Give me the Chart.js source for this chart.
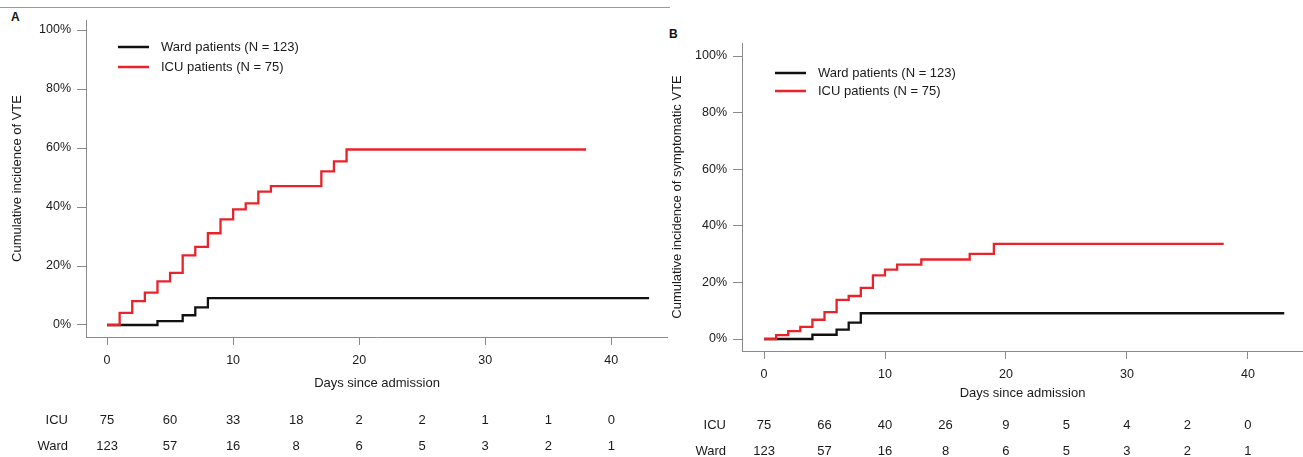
<!DOCTYPE html>
<html>
<head>
<meta charset="utf-8">
<script src="https://cdn.jsdelivr.net/npm/chart.js@4.4.1/dist/chart.umd.min.js"></script>
<style>
  html, body { margin: 0; padding: 0; background: #fff; }
  body { width: 1303px; height: 457px; position: relative; overflow: hidden; font-family: "Liberation Sans", Arial, sans-serif; }
  canvas { position: absolute; top: 0; }
  #chartA { left: 0; }
  #chartB { left: 660px; }
  .rule { position: absolute; left: 0; top: 7px; width: 670px; height: 1px; background: #9a9a9a; }
  .tag { position: absolute; font-weight: bold; font-size: 12px; color: #111; }
</style>
</head>
<body>
<div class="rule"></div>
<div class="tag" style="left:11px; top:10px;">A</div>
<div class="tag" style="left:669px; top:27px;">B</div>
<canvas id="chartA" width="668" height="457"></canvas>
<canvas id="chartB" width="643" height="457"></canvas>
<script>
// Panel A: all VTE
const icuDaysA = [0, 1, 2, 3, 4, 5, 6, 7, 8, 9, 10, 11, 12, 13, 17, 18, 19, 38];
const icuValsA = [0, 4.1, 8.1, 11.0, 14.8, 17.7, 23.6, 26.5, 31.1, 35.8, 39.2, 41.2, 45.2, 47.1, 52.1, 55.5, 59.5, 59.5];
const wardDaysA = [0, 4, 6, 7, 8, 43];
const wardValsA = [0, 1.3, 3.3, 6.0, 9.1, 9.1];

// Panel B: symptomatic VTE
const icuDaysB = [0, 1, 2, 3, 4, 5, 6, 7, 8, 9, 10, 11, 13, 17, 19, 38];
const icuValsB = [0, 1.4, 2.8, 4.3, 6.8, 9.5, 13.8, 15.2, 18.1, 22.5, 24.5, 26.3, 28.1, 30.1, 33.6, 33.6];
const wardDaysB = [0, 4, 6, 7, 8, 43];
const wardValsB = [0, 1.5, 3.3, 5.8, 9.1, 9.1];

// numbers at risk
const riskDays = [0, 5, 10, 15, 20, 25, 30, 35, 40];
const icuRiskA = [75, 60, 33, 18, 2, 2, 1, 1, 0];
const wardRiskA = [123, 57, 16, 8, 6, 5, 3, 2, 1];
const icuRiskB = [75, 66, 40, 26, 9, 5, 4, 2, 0];
const wardRiskB = [123, 57, 16, 8, 6, 5, 3, 2, 1];

const xTicks = [0, 10, 20, 30, 40];
const yTicks = [0, 20, 40, 60, 80, 100];
const wardLabel = 'Ward patients (N = 123)';
const icuLabel = 'ICU patients (N = 75)';

const FONT = '"Liberation Sans", Arial, sans-serif';
const TXT = '#1a1a1a';
const AXIS = '#8a8a8a';

function pts(days, vals) {
  return days.map((d, i) => ({ x: d, y: vals[i] }));
}

// legend + risk table drawn in plot coordinates
const extras = {
  id: 'extras',
  afterDraw(chart, args, o) {
    const ctx = chart.ctx;
    const xs = chart.scales.x;
    ctx.save();
    ctx.font = '13px ' + FONT;
    ctx.textBaseline = 'middle';
    // legend (ward first)
    [1, 0].forEach((di, k) => {
      const ds = chart.data.datasets[di];
      const y = o.legY + k * o.legGap;
      ctx.strokeStyle = ds.borderColor;
      ctx.lineWidth = 2.5;
      ctx.beginPath();
      ctx.moveTo(o.legX, y);
      ctx.lineTo(o.legX + 31, y);
      ctx.stroke();
      ctx.fillStyle = TXT;
      ctx.textAlign = 'left';
      ctx.fillText(ds.label, o.legX + 43, y);
    });
    // risk table
    const rows = [['ICU', o.icuRisk, o.rowY], ['Ward', o.wardRisk, o.rowY + 26]];
    rows.forEach(([name, vals, y]) => {
      ctx.textAlign = 'right';
      ctx.fillText(name, o.rowLabelX, y);
      ctx.textAlign = 'center';
      riskDays.forEach((d, i) => ctx.fillText(String(vals[i]), xs.getPixelForValue(d), y));
    });
    ctx.restore();
  }
};

function makePanel(id, p) {
  return new Chart(document.getElementById(id), {
    type: 'line',
    data: {
      datasets: [
        { label: icuLabel, data: pts(p.icuDays, p.icuVals), borderColor: '#e8232a', order: 0 },
        { label: wardLabel, data: pts(p.wardDays, p.wardVals), borderColor: '#111111', order: 1 }
      ]
    },
    options: {
      responsive: false,
      devicePixelRatio: 1,
      animation: false,
      layout: { padding: { left: 0, top: p.top, right: 0, bottom: 0 } },
      elements: {
        line: { borderWidth: 2.3, stepped: 'before', tension: 0 },
        point: { radius: 0 }
      },
      plugins: {
        legend: { display: false },
        tooltip: { enabled: false },
        extras: p.extras
      },
      scales: {
        x: {
          type: 'linear',
          min: p.xMin, max: p.xMax,
          afterBuildTicks: s => { s.ticks = xTicks.map(v => ({ value: v })); },
          afterFit: s => { s.height = p.xHeight; },
          grid: { drawOnChartArea: false, drawTicks: true, tickLength: 8, color: AXIS },
          border: { display: true, color: AXIS, width: 1 },
          ticks: { color: TXT, font: { family: FONT, size: 12.5 }, padding: 8, maxRotation: 0 },
          title: { display: true, text: 'Days since admission', color: TXT, font: { family: FONT, size: 13 }, padding: { top: 0, bottom: p.xTitlePad } }
        },
        y: {
          min: p.yMin, max: p.yMax,
          afterBuildTicks: s => { s.ticks = yTicks.map(v => ({ value: v })); },
          afterFit: s => { s.width = p.yWidth; },
          grid: { drawOnChartArea: false, drawTicks: true, tickLength: 9, color: AXIS },
          border: { display: true, color: AXIS, width: 1 },
          ticks: { color: TXT, font: { family: FONT, size: 12.5 }, padding: 6, callback: v => v + '%' },
          title: { display: true, text: p.yTitle, color: TXT, font: { family: FONT, size: 13 }, padding: { top: 10, bottom: 0 } }
        }
      }
    },
    plugins: [extras]
  });
}

makePanel('chartA', {
  icuDays: icuDaysA, icuVals: icuValsA, wardDays: wardDaysA, wardVals: wardValsA,
  yTitle: 'Cumulative incidence of VTE',
  top: 20, yWidth: 86, xHeight: 120, xTitlePad: 66,
  xMin: -1.67, xMax: 44.5, yMin: -4.07, yMax: 103.4,
  extras: { legX: 118, legY: 47, legGap: 20, icuRisk: icuRiskA, wardRisk: wardRiskA, rowY: 420, rowLabelX: 68 }
});

makePanel('chartB', {
  icuDays: icuDaysB, icuVals: icuValsB, wardDays: wardDaysB, wardVals: wardValsB,
  yTitle: 'Cumulative incidence of symptomatic VTE',
  top: 43, yWidth: 82, xHeight: 106, xTitlePad: 56,
  xMin: -1.82, xMax: 44.55, yMin: -4.24, yMax: 104.6,
  extras: { legX: 115, legY: 73, legGap: 18, icuRisk: icuRiskB, wardRisk: wardRiskB, rowY: 425, rowLabelX: 66 }
});
</script>
</body>
</html>
